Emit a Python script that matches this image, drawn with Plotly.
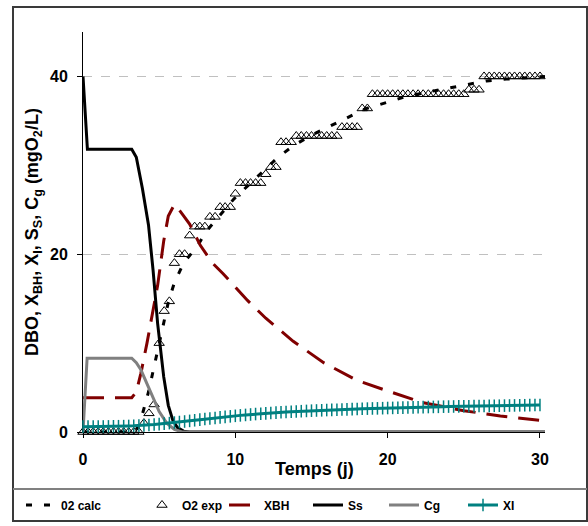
import plotly.graph_objects as go

# ---------------- data ----------------
t_exp = [0, 0.33, 0.67, 1, 1.33, 1.67, 2, 2.33, 2.67, 3, 3.33, 3.67, 4, 4.33, 4.67, 5, 5.33, 5.67,
         6, 6.33, 6.67, 7, 7.33, 7.67, 8, 8.33, 8.67, 9, 9.33, 9.67, 10, 10.33, 10.67, 11, 11.33, 11.67,
         12, 12.33, 12.67, 13, 13.33, 13.67, 14, 14.33, 14.67, 15, 15.33, 15.67, 16, 16.33, 16.67,
         17, 17.33, 17.67, 18, 18.33, 18.67, 19, 19.33, 19.67, 20, 20.33, 20.67, 21, 21.33, 21.67,
         22, 22.33, 22.67, 23, 23.33, 23.67, 24, 24.33, 24.67, 25, 25.33, 25.67, 26, 26.33, 26.67,
         27, 27.33, 27.67, 28, 28.33, 28.67, 29, 29.33, 29.67, 30]

o2_exp = [0, 0, 0, 0, 0, 0, 0, 0, 0, 0, 0, 0,
          1.0, 2.1, 3.1, 10.0, 13.6, 14.7, 19.0, 20.0, 20.0, 22.1, 23.1, 23.1, 23.1, 24.2, 24.2,
          25.3, 25.3, 25.3, 26.8, 28.0, 28.0, 28.0, 28.0, 28.0, 29.0, 29.8, 29.8,
          32.6, 32.6, 32.6, 33.3, 33.3, 33.3, 33.3, 33.3, 33.3, 33.3, 33.3, 33.3,
          34.3, 34.3, 34.3, 34.3, 36.4, 36.4,
          38.0, 38.0, 38.0, 38.0, 38.0, 38.0, 38.0, 38.0, 38.0, 38.0, 38.0, 38.0, 38.0, 38.0,
          38.0, 38.0, 38.0, 38.0, 38.0, 38.5, 38.5, 38.5,
          40.0, 40.0, 40.0, 40.0, 40.0, 40.0, 40.0, 40.0, 40.0, 40.0, 40.0, 40.0]

xi = [0.60, 0.60, 0.61, 0.61, 0.62, 0.63, 0.64, 0.65, 0.66, 0.68, 0.70, 0.72, 0.75, 0.79, 0.84,
      0.89, 0.94, 1.00, 1.06, 1.12, 1.18, 1.25, 1.32, 1.39, 1.46, 1.52, 1.58, 1.64, 1.70, 1.76,
      1.82, 1.87, 1.92, 1.97, 2.02, 2.06, 2.10, 2.14, 2.18, 2.22, 2.25, 2.28, 2.31, 2.34, 2.37,
      2.40, 2.42, 2.44, 2.47, 2.49, 2.51, 2.53, 2.55, 2.57, 2.59, 2.61, 2.63, 2.65, 2.66, 2.68,
      2.70, 2.71, 2.73, 2.74, 2.76, 2.77, 2.78, 2.80, 2.81, 2.82, 2.83, 2.85, 2.86, 2.87, 2.88,
      2.89, 2.90, 2.91, 2.92, 2.93, 2.94, 2.95, 2.96, 2.97, 2.98, 2.99, 3.00, 3.01, 3.02, 3.03, 3.04]

t_calc = [0, 3.3, 3.6, 3.9, 4.3, 4.8, 5.2, 5.6, 6.0, 6.6, 7.5, 8.1, 8.9, 9.9, 11, 11.8, 12.8, 13.8,
          15, 16.2, 17.4, 18.6, 20, 21.1, 22.5, 23.8, 25.1, 26.5, 27.8, 29.2, 30.33]
o2_calc = [0, 0, 0.5, 2, 4.5, 8.5, 11.5, 14.6, 16.8, 19, 20.9, 22.6, 24.2, 26.2, 28, 29.3, 30.9, 32.2,
           33.4, 34.4, 35.4, 36.4, 37.1, 37.7, 38.2, 38.6, 39.0, 39.5, 39.7, 39.9, 40]

t_xbh = [0, 3.2, 3.5, 3.8, 4.2, 4.6, 4.9, 5.3, 5.6, 6.0, 6.4, 7.0, 7.7, 8.5, 9.2, 10, 10.8, 12,
         13.8, 15.8, 18, 20.2, 22.3, 25, 27.4, 30.33]
xbh = [3.85, 3.85, 4.5, 6.6, 10, 13.5, 16.5, 21.5, 24.3, 25.6, 24.8, 23.4, 21, 19, 17.8, 16.3, 14.8,
       12.8, 10.2, 7.8, 5.8, 4.5, 3.3, 2.4, 1.8, 1.25]

t_ss = [0, 0.29, 3.2, 3.5, 3.9, 4.3, 4.6, 4.9, 5.3, 5.6, 5.9, 6.2, 6.6, 7.0, 30.33]
ss = [40, 31.8, 31.8, 30.9, 27.4, 23.3, 18.2, 12.2, 6.2, 3.0, 1.3, 0.5, 0.1, 0, 0]

t_cg = [0, 0.27, 3.2, 3.5, 3.8, 4.4, 5.0, 5.5, 6.0, 6.5, 30.33]
cg = [0, 8.3, 8.3, 7.8, 7.0, 4.6, 2.3, 1.0, 0.3, 0, 0]

y_ticks = [0, 20, 40]
x_ticks = [0, 10, 20, 30]

# ---------------- layout constants ----------------
W, H = 588, 526
ML, MR, MT, MB = 83, 43, 32, 94
PW, PH = W - ML - MR, H - MT - MB
FONT = "Arial, Liberation Sans, sans-serif"


def px_x(p):
    return (p - ML) / PW


def px_y(p):
    return (H - MB - p) / PH


fig = go.Figure()

fig.add_trace(go.Scatter(x=t_calc, y=o2_calc, mode="lines", name="02 calc",
                         line=dict(color="black", width=3, dash="6px,12px"),
                         legend="legend"))
fig.add_trace(go.Scatter(x=t_exp, y=o2_exp, mode="markers", name="O2 exp",
                         marker=dict(symbol="triangle-up-open", size=9, color="black",
                                     line=dict(width=1, color="black")),
                         cliponaxis=False, legend="legend2"))
fig.add_trace(go.Scatter(x=t_xbh, y=xbh, mode="lines", name="XBH",
                         line=dict(color="#800000", width=3, dash="21px,11px"),
                         legend="legend3"))
fig.add_trace(go.Scatter(x=t_ss, y=ss, mode="lines", name="Ss",
                         line=dict(color="black", width=3), legend="legend4"))
fig.add_trace(go.Scatter(x=t_cg, y=cg, mode="lines", name="Cg",
                         line=dict(color="#808080", width=3), cliponaxis=False,
                         legend="legend5"))
fig.add_trace(go.Scatter(x=t_exp, y=xi, mode="lines+markers", name="XI",
                         line=dict(color="#008080", width=3),
                         marker=dict(symbol="line-ns", size=9, color="#008080",
                                     line=dict(width=1.5, color="#008080")),
                         cliponaxis=False, legend="legend6"))

legend_x_px = [21, 142, 224, 308, 384, 463]
legend_y = 1 - 505 / H
base_leg = dict(xref="container", yref="container", xanchor="left", yanchor="middle",
                orientation="h", bgcolor="rgba(0,0,0,0)", borderwidth=0,
                font=dict(family=FONT, size=12, color="black", weight="bold"))
leg_names = ["legend", "legend2", "legend3", "legend4", "legend5", "legend6"]
for name, lx in zip(leg_names, legend_x_px):
    fig.update_layout({name: dict(base_leg, x=lx / W, y=legend_y)})

fig.update_layout(
    width=W, height=H,
    margin=dict(l=ML, r=MR, t=MT, b=MB, pad=0, autoexpand=False),
    paper_bgcolor="white", plot_bgcolor="white",
    font=dict(family=FONT, color="black"),
    showlegend=True,
    xaxis=dict(range=[0, 30.33], tickvals=x_ticks, showgrid=False, zeroline=False,
               showline=True, linecolor="black", linewidth=1, ticks="outside",
               ticklen=5, tickcolor="black", ticklabelstandoff=8, layer="below traces",
               tickfont=dict(family=FONT, size=16, color="black", weight="bold")),
    yaxis=dict(range=[0, 45], tickvals=y_ticks, showgrid=True, gridcolor="#c0c0c0",
               griddash="dash", gridwidth=1, zeroline=False,
               showline=True, linecolor="black", linewidth=1, ticks="outside",
               ticklen=5, tickcolor="black", ticklabelstandoff=6, layer="below traces",
               tickfont=dict(family=FONT, size=16, color="black", weight="bold")),
    annotations=[
        dict(text="Temps (j)", xref="paper", yref="paper", x=0.5, y=px_y(469),
             xanchor="center", yanchor="middle", showarrow=False,
             font=dict(family=FONT, size=18, color="black", weight="bold")),
        dict(text="DBO, X<sub>BH</sub>, X<sub>I</sub>, S<sub>S</sub>, C<sub>g</sub> (mgO<sub>2</sub>/L)",
             xref="paper", yref="paper", x=px_x(33), y=0.5, textangle=-90,
             xanchor="center", yanchor="middle", showarrow=False,
             font=dict(family=FONT, size=18, color="black", weight="bold")),
    ],
    shapes=[
        dict(type="rect", xref="paper", yref="paper", x0=px_x(13), x1=px_x(587),
             y0=px_y(521), y1=px_y(7), line=dict(color="#3a3a3a", width=2), layer="below"),
        dict(type="line", xref="paper", yref="paper", x0=px_x(13), x1=px_x(587),
             y0=px_y(489), y1=px_y(489), line=dict(color="#808080", width=2), layer="below"),
    ],
)

fig.write_html("out.html", config={"displayModeBar": False},
               post_script="document.body.style.margin='0';document.body.style.overflow='hidden';")
